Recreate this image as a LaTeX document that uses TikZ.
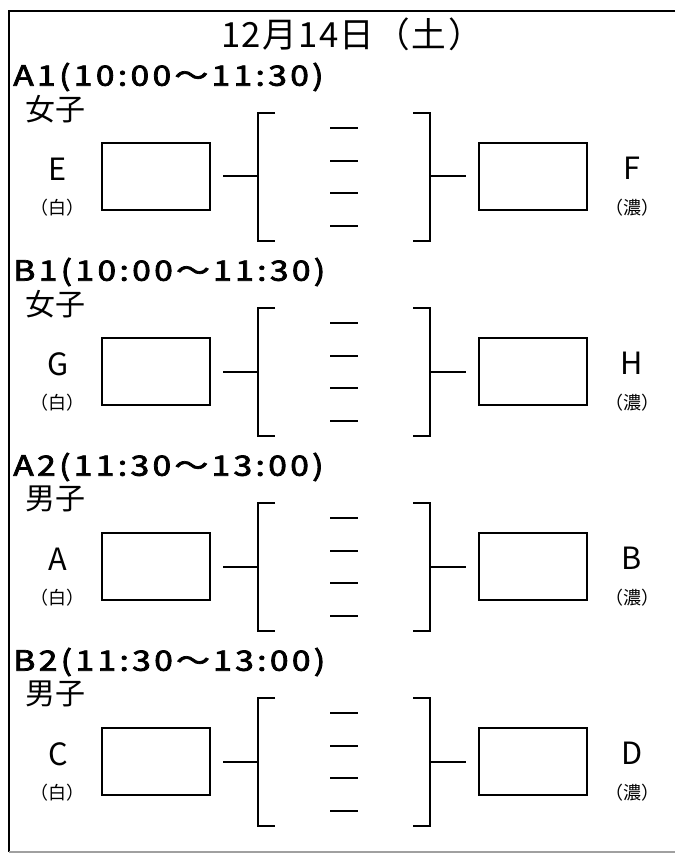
\documentclass[tikz,border=0pt]{standalone}
\usepackage{fontspec}
\setmainfont{Noto Sans CJK JP}
\newfontfamily\titlefont[LetterSpace=4]{Noto Sans CJK JP}
\newfontfamily\headfont[LetterSpace=10,FakeBold=2.5]{Noto Sans CJK JP}
\usepackage{xcolor}
\definecolor{Col1}{RGB}{0,0,0}
\definecolor{Col2}{RGB}{160,160,160}
\usepackage{tikz}
\tikzstyle{Frame}=[draw=Col1,line width=1.5pt]
\tikzstyle{FrameB}=[draw=Col2,line width=0.9pt]
\tikzstyle{Box}=[rectangle,draw=Col1,line width=1.7pt,minimum width=81pt,
minimum height=50pt,inner sep=0pt]
\tikzstyle{Edge}=[draw=Col1,line width=1.5pt]
\tikzstyle{Bracket}=[draw=Col1,line width=2pt]
\tikzstyle{Dash}=[draw=Col1,line width=1.7pt]
\tikzstyle{NodeTitle}=[inner sep=0pt,font=\titlefont\fontsize{26}{26}\selectfont]
\tikzstyle{NodeHead}=[anchor=west,inner sep=0pt,xscale=1.2,
font=\headfont\fontsize{21}{21}\selectfont]
\tikzstyle{NodeSex}=[anchor=west,inner sep=0pt,font=\fontsize{22.5}{22.5}\selectfont]
\tikzstyle{NodeTeam}=[inner sep=0pt,font=\fontsize{23}{23}\selectfont]
\tikzstyle{NodeCol}=[inner sep=0pt,font=\fontsize{13.5}{13.5}\selectfont]

\begin{document}
\begin{tikzpicture}[x=0.75pt,y=-0.75pt]
        \useasboundingbox(0,0)rectangle(675,855);
        \draw[Frame](675,11)--(9,11)--(9,852);
        \draw[FrameB](9,852)--(675,852);
        \node[NodeTitle](t)at(352,34){12月14日（土）};
        % A1
        \node[NodeHead](h1)at(13,77){A1(10:00～11:30)};
        \node[NodeSex](s1)at(25,109){女子};
        \node[NodeTeam](E)at(58,169){E};
        \node[NodeCol](wE)at(57,208){（白）};
        \node[Box](bE)at(156,176.5){};
        \node[Box](bF)at(533,176.5){};
        \node[NodeTeam](F)at(632,168){F};
        \node[NodeCol](wF)at(632,208){（濃）};
        \coordinate(l1)at(258,176.5);
        \coordinate(r1)at(430,176.5);
        \draw[Bracket](275,113)--(258,113)--(258,241)--(275,241);
        \draw[Bracket](413,113)--(430,113)--(430,241)--(413,241);
        \draw[Dash](330,128)--(358,128);
        \draw[Dash](330,161)--(358,161);
        \draw[Dash](330,193)--(358,193);
        \draw[Dash](330,226)--(358,226);
        \draw[Edge]([xshift=9pt]bE.east)--(l1);
        \draw[Edge](r1)--([xshift=-9pt]bF.west);
        % B1
        \node[NodeHead](h2)at(13,272){B1(10:00～11:30)};
        \node[NodeSex](s2)at(25,304){女子};
        \node[NodeTeam](G)at(58,364){G};
        \node[NodeCol](wG)at(57,403){（白）};
        \node[Box](bG)at(156,371.5){};
        \node[Box](bH)at(533,371.5){};
        \node[NodeTeam](H)at(632,363){H};
        \node[NodeCol](wH)at(632,403){（濃）};
        \coordinate(l2)at(258,371.5);
        \coordinate(r2)at(430,371.5);
        \draw[Bracket](275,308)--(258,308)--(258,436)--(275,436);
        \draw[Bracket](413,308)--(430,308)--(430,436)--(413,436);
        \draw[Dash](330,323)--(358,323);
        \draw[Dash](330,356)--(358,356);
        \draw[Dash](330,388)--(358,388);
        \draw[Dash](330,421)--(358,421);
        \draw[Edge]([xshift=9pt]bG.east)--(l2);
        \draw[Edge](r2)--([xshift=-9pt]bH.west);
        % A2
        \node[NodeHead](h3)at(13,467){A2(11:30～13:00)};
        \node[NodeSex](s3)at(25,499){男子};
        \node[NodeTeam](A)at(58,559){A};
        \node[NodeCol](wA)at(57,598){（白）};
        \node[Box](bA)at(156,566.5){};
        \node[Box](bB)at(533,566.5){};
        \node[NodeTeam](B)at(632,558){B};
        \node[NodeCol](wB)at(632,598){（濃）};
        \coordinate(l3)at(258,566.5);
        \coordinate(r3)at(430,566.5);
        \draw[Bracket](275,503)--(258,503)--(258,631)--(275,631);
        \draw[Bracket](413,503)--(430,503)--(430,631)--(413,631);
        \draw[Dash](330,518)--(358,518);
        \draw[Dash](330,551)--(358,551);
        \draw[Dash](330,583)--(358,583);
        \draw[Dash](330,616)--(358,616);
        \draw[Edge]([xshift=9pt]bA.east)--(l3);
        \draw[Edge](r3)--([xshift=-9pt]bB.west);
        % B2
        \node[NodeHead](h4)at(13,662){B2(11:30～13:00)};
        \node[NodeSex](s4)at(25,694){男子};
        \node[NodeTeam](C)at(58,754){C};
        \node[NodeCol](wC)at(57,793){（白）};
        \node[Box](bC)at(156,761.5){};
        \node[Box](bD)at(533,761.5){};
        \node[NodeTeam](D)at(632,753){D};
        \node[NodeCol](wD)at(632,793){（濃）};
        \coordinate(l4)at(258,761.5);
        \coordinate(r4)at(430,761.5);
        \draw[Bracket](275,698)--(258,698)--(258,826)--(275,826);
        \draw[Bracket](413,698)--(430,698)--(430,826)--(413,826);
        \draw[Dash](330,713)--(358,713);
        \draw[Dash](330,746)--(358,746);
        \draw[Dash](330,778)--(358,778);
        \draw[Dash](330,811)--(358,811);
        \draw[Edge]([xshift=9pt]bC.east)--(l4);
        \draw[Edge](r4)--([xshift=-9pt]bD.west);
    \end{tikzpicture}
\end{document}
